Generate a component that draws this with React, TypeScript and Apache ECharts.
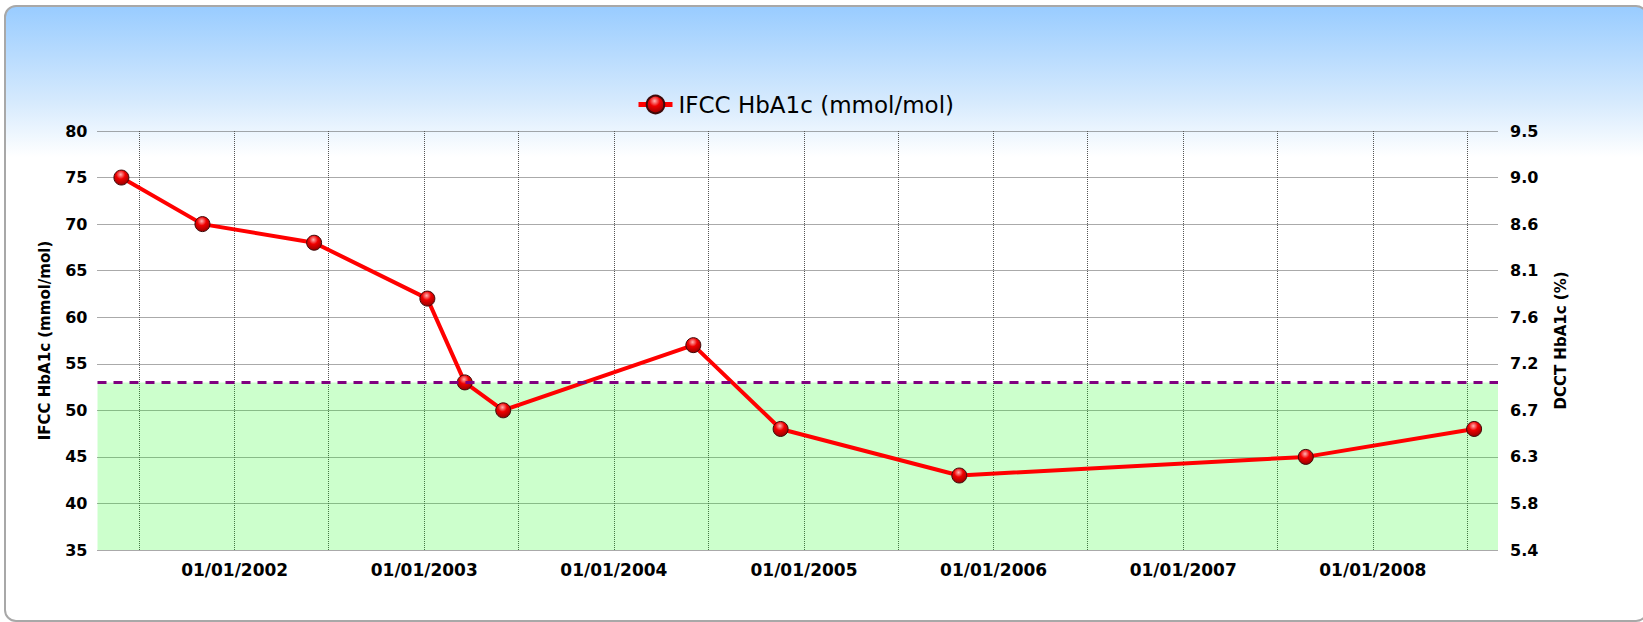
import React, { useEffect, useRef } from "react";
import * as echarts from "echarts";

// ---- data ----
const seriesName = "IFCC HbA1c (mmol/mol)";
const leftAxisName = "IFCC HbA1c (mmol/mol)";
const rightAxisName = "DCCT HbA1c (%)";

const measureDates = [
  "2001-05-28",
  "2001-10-31",
  "2002-06-03",
  "2003-01-07",
  "2003-03-20",
  "2003-06-02",
  "2004-06-02",
  "2004-11-17",
  "2005-10-27",
  "2007-08-25",
  "2008-07-14",
];
const ifccValues = [75, 70, 68, 62, 53, 50, 57, 48, 43, 45, 48];

const targetIfcc = 53;
const areaBottom = 35;

const axisStartDate = "2001-04-12";
const axisEndDate = "2008-08-29";

const gridTickDates = [
  "2001-07-01",
  "2002-01-01",
  "2002-07-01",
  "2003-01-01",
  "2003-07-01",
  "2004-01-01",
  "2004-07-01",
  "2005-01-01",
  "2005-07-01",
  "2006-01-01",
  "2006-07-01",
  "2007-01-01",
  "2007-07-01",
  "2008-01-01",
  "2008-07-01",
];
const xLabelDates = [
  "2002-01-01",
  "2003-01-01",
  "2004-01-01",
  "2005-01-01",
  "2006-01-01",
  "2007-01-01",
  "2008-01-01",
];
const xTickLabels = [
  "01/01/2002",
  "01/01/2003",
  "01/01/2004",
  "01/01/2005",
  "01/01/2006",
  "01/01/2007",
  "01/01/2008",
];

const ifccTicks = [35, 40, 45, 50, 55, 60, 65, 70, 75, 80];
const dcctTickLabels = ["5.4", "5.8", "6.3", "6.7", "7.2", "7.6", "8.1", "8.6", "9.0", "9.5"];

// ---- helpers ----
const ts = (d: string) => {
  const [y, m, dd] = d.split("-").map(Number);
  return Date.UTC(y, m - 1, dd);
};

const FONT = "DejaVu Sans, Verdana, sans-serif";

export default function App() {
  const ref = useRef<HTMLDivElement>(null);

  useEffect(() => {
    if (!ref.current) return;
    const chart = echarts.init(ref.current, undefined, { renderer: "svg" });

    const labelTs = xLabelDates.map(ts);
    const tickTs = gridTickDates.map(ts);

    const pointFill = new echarts.graphic.RadialGradient(0.45, 0.3, 0.75, [
      { offset: 0, color: "#ffb3b3" },
      { offset: 0.4, color: "#f00000" },
      { offset: 1, color: "#8c0000" },
    ]);

    const gridLine = { color: "#555", type: [1, 1], width: 1 };

    chart.setOption({
      animation: false,
      backgroundColor: "transparent",
      textStyle: { fontFamily: FONT },
      legend: {
        data: [seriesName],
        left: 631,
        top: 88,
        itemWidth: 34,
        itemHeight: 22,
        lineStyle: { width: 5 },
        textStyle: {
          color: "#000",
          fontSize: 23,
          fontFamily: FONT,
          padding: [0, 0, 0, 1],
        },
      },
      grid: {
        left: 97.5,
        right: 145,
        top: 131,
        bottom: 72,
        containLabel: false,
        outerBoundsMode: "none",
      },
      xAxis: {
        type: "value",
        min: ts(axisStartDate),
        max: ts(axisEndDate),
        axisLine: { show: false },
        axisTick: { show: false, customValues: tickTs },
        axisLabel: {
          color: "#000",
          fontFamily: FONT,
          fontWeight: "bold",
          fontSize: 17,
          customValues: labelTs,
          margin: 11,
          hideOverlap: false,
          formatter: (v: number) => {
            const i = labelTs.indexOf(v);
            return i >= 0 ? xTickLabels[i] : "";
          },
        },
        splitLine: { show: true, lineStyle: gridLine },
      },
      yAxis: [
        {
          type: "value",
          position: "left",
          min: 35,
          max: 80,
          interval: 5,
          name: leftAxisName,
          nameLocation: "middle",
          nameGap: 45,
          nameTextStyle: {
            color: "#000",
            fontFamily: FONT,
            fontWeight: "bold",
            fontSize: 15,
          },
          axisLine: { show: false },
          axisTick: { show: false },
          axisLabel: {
            color: "#000",
            fontFamily: FONT,
            fontWeight: "bold",
            fontSize: 16,
            margin: 10,
            formatter: (v: number) => String(v),
          },
          splitLine: { show: true, lineStyle: gridLine },
        },
        {
          type: "value",
          position: "right",
          min: 35,
          max: 80,
          interval: 5,
          name: rightAxisName,
          nameLocation: "middle",
          nameGap: 55,
          nameTextStyle: {
            color: "#000",
            fontFamily: FONT,
            fontWeight: "bold",
            fontSize: 15,
          },
          axisLine: { show: false },
          axisTick: { show: false },
          axisLabel: {
            color: "#000",
            fontFamily: FONT,
            fontWeight: "bold",
            fontSize: 16,
            margin: 12,
            formatter: (v: number) => {
              const i = ifccTicks.indexOf(v);
              return i >= 0 ? dcctTickLabels[i] : "";
            },
          },
          splitLine: { show: false },
        },
      ],
      series: [
        {
          name: "target",
          type: "line",
          data: [],
          z: 1,
          silent: true,
          markArea: {
            silent: true,
            itemStyle: { color: "rgba(0,255,0,0.2)" },
            data: [[{ yAxis: areaBottom }, { yAxis: targetIfcc }]],
          },
          markLine: {
            silent: true,
            symbol: ["none", "none"],
            label: { show: false },
            lineStyle: { color: "#800080", width: 3, type: [9, 7] },
            data: [{ yAxis: targetIfcc }],
          },
        },
        {
          name: seriesName,
          type: "line",
          z: 3,
          yAxisIndex: 0,
          data: measureDates.map((d, i) => [ts(d), ifccValues[i]]),
          symbol: "circle",
          symbolSize: 15,
          showSymbol: true,
          lineStyle: { color: "#ff0000", width: 4 },
          itemStyle: {
            color: pointFill,
            borderColor: "#3d0a0a",
            borderWidth: 1,
          },
        },
      ],
    });

    return () => chart.dispose();
  }, []);

  return (
    <div
      style={{
        position: "fixed",
        left: 0,
        top: 0,
        width: 1643,
        height: 622,
        background: "#fff",
        overflow: "hidden",
      }}
    >
      <div
        style={{
          position: "absolute",
          left: 4,
          top: 5,
          width: 1640,
          height: 613,
          border: "2px solid #a8a8a8",
          borderRadius: 12,
          background: "linear-gradient(to bottom, #99ccff 0px, #d6eafd 95px, #ffffff 150px, #ffffff 100%)",
        }}
      />
      <div
        ref={ref}
        style={{ position: "absolute", left: 0, top: 0, width: 1643, height: 622 }}
      />
    </div>
  );
}
